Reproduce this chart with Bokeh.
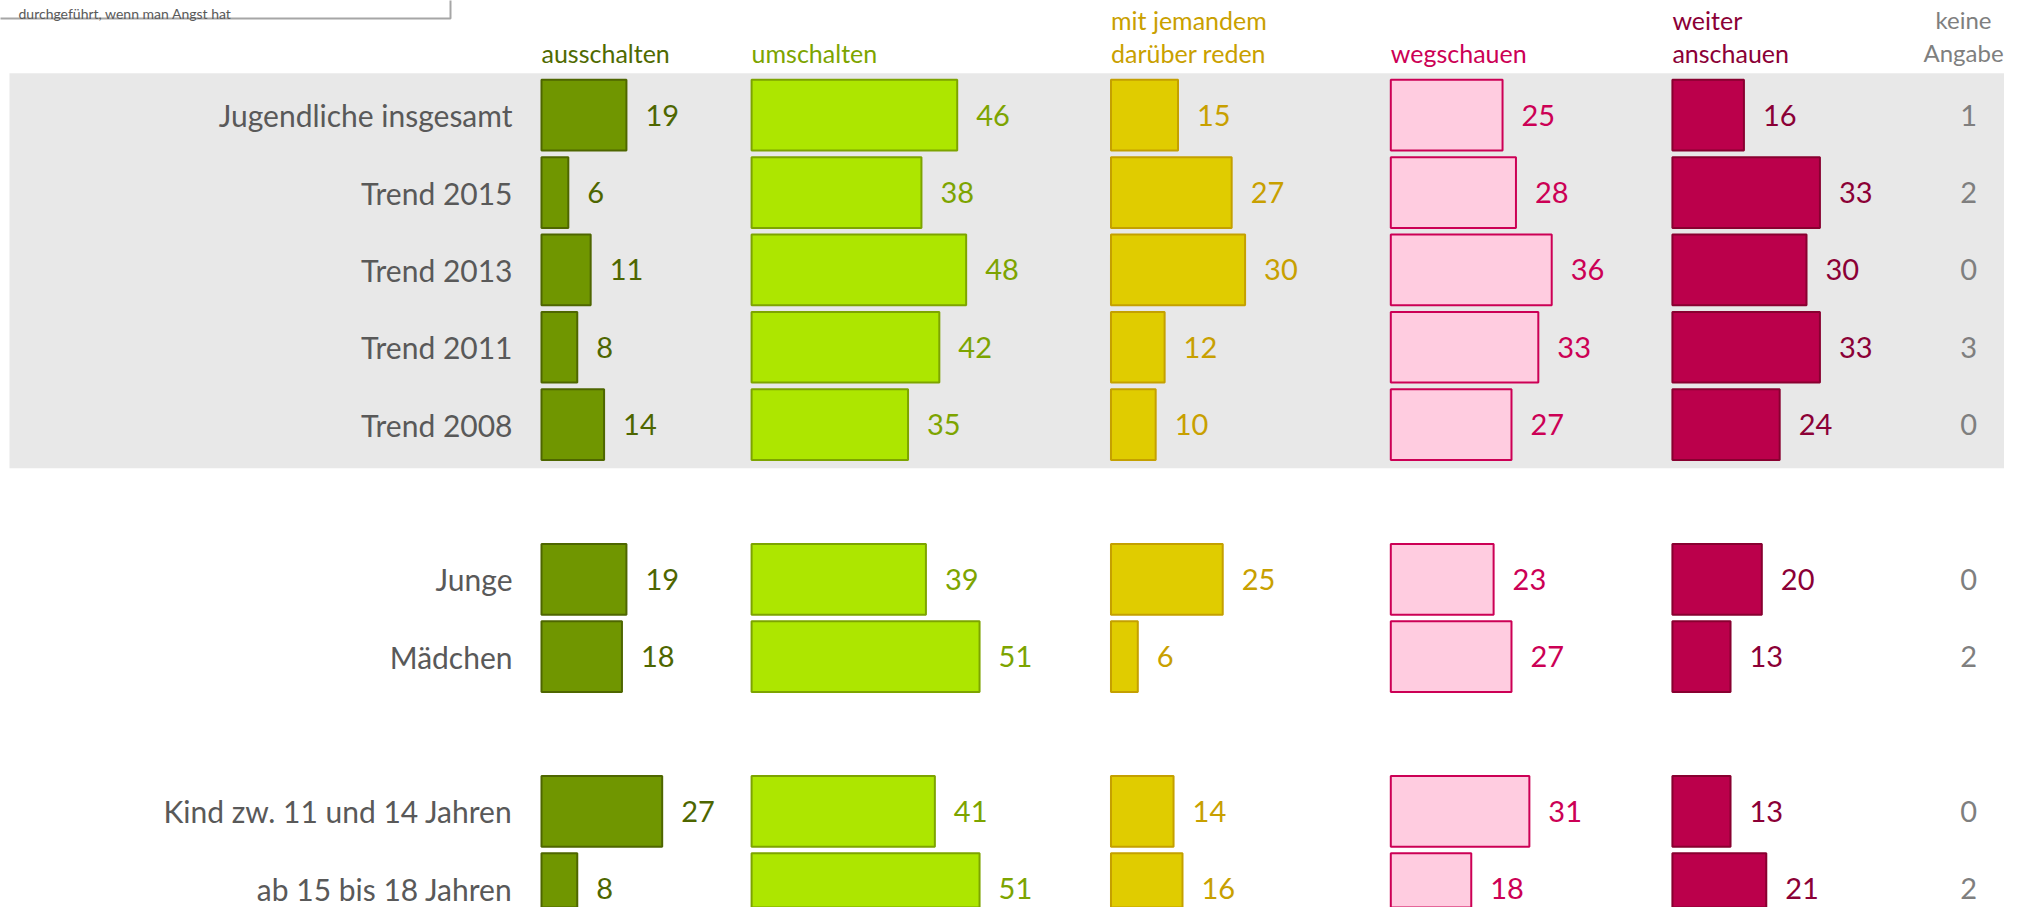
from bokeh.plotting import figure
from bokeh.models import ColumnDataSource, Range1d
from bokeh.core.properties import value
from bokeh.embed import file_html
from bokeh.resources import INLINE

# ---------------- data ----------------
categories = ["Jugendliche insgesamt", "Trend 2015", "Trend 2013", "Trend 2011",
              "Trend 2008", "Junge", "Mädchen", "Kind zw. 11 und 14 Jahren",
              "ab 15 bis 18 Jahren"]
series_labels = [["ausschalten"], ["umschalten"], ["mit jemandem", "darüber reden"],
                 ["wegschauen"], ["weiter", "anschauen"]]
no_answer_label = ["keine", "Angabe"]
title_tail = "durchgeführt, wenn man Angst hat"
ausschalten = [19, 6, 11, 8, 14, 19, 18, 27, 8]
umschalten = [46, 38, 48, 42, 35, 39, 51, 41, 51]
darueber_reden = [15, 27, 30, 12, 10, 25, 6, 14, 16]
wegschauen = [25, 28, 36, 33, 27, 23, 27, 31, 18]
weiter_anschauen = [16, 33, 30, 33, 24, 20, 13, 13, 21]
keine_angabe = [1, 2, 0, 3, 0, 0, 2, 0, 2]

# ---------------- layout ----------------
W, H = 2004, 907
ORIGIN = 0              # page offset of the plot frame in the screenshot
PX_UNIT = 4.47          # pixels per percentage point
X_ZERO = 541.0          # page x of first column's zero
ROW0 = 114.7            # page y of first row centre
ROW_PITCH = 77.35
row_slots = [0, 1, 2, 3, 4, 6, 7, 9, 10]
col_offsets = [0, 47, 127.4, 190, 253]
no_answer_center = 319.3
bar_h = 0.914
HEAD_BASE_2 = [19, 52]
HEAD_BASE_1 = [52]

def xd(px):
    return (px - X_ZERO) / PX_UNIT

def yd(py):
    return (py - ROW0) / ROW_PITCH

FONT = value("Lato")
fills = ["#709600", "#ADE600", "#E0CC00", "#FFCCE0", "#BB004B"]
lines = ["#4E6600", "#7DA400", "#C4A000", "#CC0055", "#880030"]
val_colors = ["#4E6600", "#7DA400", "#C8A000", "#CC0055", "#8B0036"]
head_colors = ["#4F6A00", "#7DA400", "#C9A000", "#CC0055", "#8B0036"]
GRAY_TXT = "#595959"
NA_TXT = "#7F7F7F"

p = figure(width=W, height=H, output_backend="svg", toolbar_location=None,
           x_range=Range1d(xd(ORIGIN), xd(ORIGIN + W)),
           y_range=Range1d(yd(ORIGIN + H), yd(ORIGIN)),
           min_border=0, outline_line_color=None, background_fill_color="white")
p.xaxis.visible = False
p.yaxis.visible = False
p.grid.visible = False

# grey band behind the total/trend rows
p.quad(left=xd(9), right=xd(2030), top=yd(72.7), bottom=yd(467.7),
       fill_color="#E8E8E8", line_color=None)

# title box at the top (only its lower part is in view)
p.quad(left=xd(-20), right=xd(450), top=yd(-60), bottom=yd(18),
       fill_color="white", line_color="#A6A6A6", line_width=2)
p.text(x=[xd(18)], y=[yd(13)], text=[title_tail], text_align="left",
       text_baseline="alphabetic", text_font=FONT, text_font_size="14px",
       text_color=GRAY_TXT)

series = [ausschalten, umschalten, darueber_reden, wegschauen, weiter_anschauen]
ys = row_slots
for i, vals in enumerate(series):
    off = col_offsets[i]
    src = ColumnDataSource(dict(
        y=ys,
        left=[off] * len(vals),
        right=[off + v for v in vals],
        v=[str(v) for v in vals],
    ))
    p.hbar(y="y", left="left", right="right", height=bar_h, source=src,
           fill_color=fills[i], line_color=lines[i], line_width=2)
    p.text(x="right", y="y", text="v", source=src, x_offset=19,
           text_align="left", text_baseline="middle", text_font=FONT,
           text_font_size="29px", text_color=val_colors[i])
    # header
    hl = series_labels[i]
    base_lines = HEAD_BASE_2 if len(hl) == 2 else HEAD_BASE_1
    for t, b in zip(hl, base_lines):
        p.text(x=[off], y=[yd(b)], text=[t], text_align="left",
               text_baseline="alphabetic", text_font=FONT,
               text_font_size="25px", text_color=head_colors[i])

# keine Angabe column
p.text(x=[no_answer_center] * len(keine_angabe), y=ys,
       text=[str(v) for v in keine_angabe], text_align="center",
       text_baseline="middle", text_font=FONT, text_font_size="29px",
       text_color=NA_TXT)
for t, b in zip(no_answer_label, HEAD_BASE_2):
    p.text(x=[xd(1963)], y=[yd(b)], text=[t], text_align="center",
           text_baseline="alphabetic", text_font=FONT, text_font_size="24px",
           text_color=NA_TXT)

# row labels
p.text(x=[xd(512)] * len(categories), y=ys, text=categories, text_align="right",
       text_baseline="middle", text_font=FONT, text_font_size="30px",
       text_color=GRAY_TXT)

open("out.html", "w").write(file_html(p, INLINE))
